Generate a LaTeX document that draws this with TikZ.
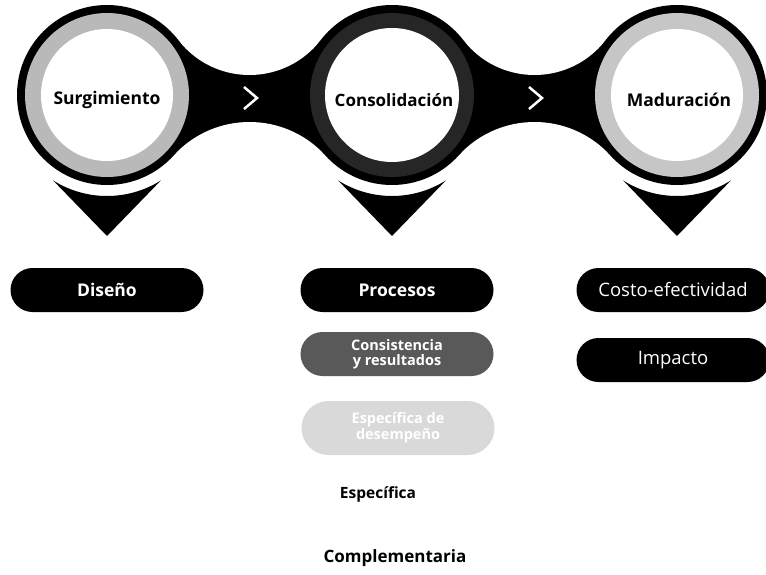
\documentclass[tikz,border=0pt]{standalone}
\usepackage{fontspec}
\setmainfont{Open Sans}
\usetikzlibrary{calc}
\tikzset{
  pill/.style={fill=black, text=white, rounded corners=22pt, minimum width=193pt,
    minimum height=44pt, inner sep=0pt, align=center, font=\bfseries\fontsize{17.5}{20}\selectfont},
  stage/.style={font=\bfseries\fontsize{17.5}{20}\selectfont},
  plain/.style={font=\fontsize{18.5}{20}\selectfont}
}
\begin{document}
\begin{tikzpicture}[x=1pt,y=1pt]
    \useasboundingbox (0,0) rectangle (766,-574);
    \foreach \m in {249.5,534.5} {
        \fill[black] (\m-82,-41) rectangle (\m+82,-154);
        \fill[white] (\m,15) circle (90);
        \fill[white] (\m,-224.7) circle (102.7);
    }
    \foreach \c/\g/\w in {107/gray!55/66, 392/black!85/67, 677/gray!45/66} {
        \fill[black] (\c,-95) circle (90);
        \fill[\g] (\c,-95) circle (82);
        \fill[white] (\c,-95) circle (\w);
        \fill[black] (\c,-236) -- ([shift={(\c,-95)}]-57.7:101)
            arc[start angle=-57.7, end angle=-122.3, radius=101] -- cycle;
    }
    \draw[white, line width=2.5pt] (244,-87) -- (257,-98) -- (244,-109);
    \draw[white, line width=2.5pt] (529,-87) -- (542,-98) -- (529,-109);
    \node[stage] (surg) at (107,-100) {Surgimiento};
    \node[stage, font=\bfseries\fontsize{17}{20}\selectfont] (consol) at (394,-100) {Consolidación};
    \node[stage] (madur) at (679,-100) {Maduración};
    \node[pill] (diseno) at (107,-290) {Diseño};
    \node[pill] (procesos) at (397,-290) {Procesos};
    \node[pill, fill=black!65, font=\bfseries\fontsize{14.5}{15}\selectfont] (consist) at (397,-354) {Consistencia\\y resultados};
    \node[pill, fill=gray!30, minimum height=54pt, rounded corners=27pt,
        font=\bfseries\fontsize{14.5}{16}\selectfont] (desemp) at (398,-428) {Específica de\\desempeño};
    \node[pill, plain] (costo) at (673,-290) {Costo-efectividad};
    \node[pill, plain] (impacto) at (673,-360) {Impacto};
    \node[font=\bfseries\fontsize{15.5}{17}\selectfont] (especif) at (378,-494) {Específica};
    \node[font=\bfseries\fontsize{17}{19}\selectfont] (complem) at (395,-558) {Complementaria};
\end{tikzpicture}
\end{document}
